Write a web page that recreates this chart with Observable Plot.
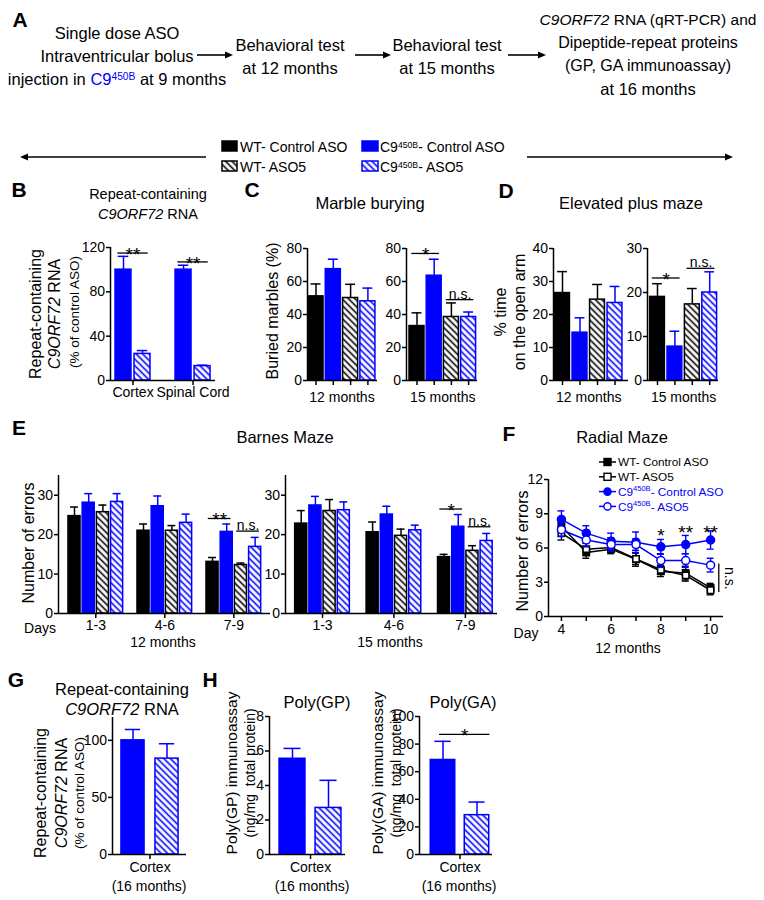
<!DOCTYPE html>
<html><head><meta charset="utf-8">
<script src="https://cdn.jsdelivr.net/npm/d3@7"></script>
<script src="https://cdn.jsdelivr.net/npm/@observablehq/plot@0.6"></script>
<style>
body{margin:0;background:#fff;}
#root{position:relative;width:764px;height:900px;overflow:hidden;font-family:"Liberation Sans",Arial,Helvetica,sans-serif;color:#000;background:#fff;}
.t{position:absolute;white-space:nowrap;line-height:1;}
.t sup{font-size:0.62em;vertical-align:0.5em;line-height:0;}
</style></head>
<body>
<svg width="0" height="0" style="position:absolute">
<defs>
<pattern id="hK" patternUnits="userSpaceOnUse" width="4.6" height="4.6" patternTransform="rotate(45)">
<rect width="4.6" height="4.6" fill="#fff"/><line x1="0" y1="2.3" x2="4.6" y2="2.3" stroke="#000" stroke-width="1.6"/>
</pattern>
<pattern id="hB" patternUnits="userSpaceOnUse" width="4.6" height="4.6" patternTransform="rotate(45)">
<rect width="4.6" height="4.6" fill="#fff"/><line x1="0" y1="2.3" x2="4.6" y2="2.3" stroke="#0000ff" stroke-width="1.6"/>
</pattern>
</defs>
</svg>
<div id="root"></div>
<script>
// ================= DATA =================
const treatments = ["WT- Control ASO", "C9450B- Control ASO", "WT- ASO5", "C9450B- ASO5"];
// B: repeat-containing C9ORF72 RNA (% of control ASO)
const rnaTissues = ["Cortex", "Spinal Cord"];
const rnaCtrl = [100, 100], rnaCtrlSem = [12, 4];
const rnaAso5 = [24, 13], rnaAso5Sem = [3, 0.8];
// C: marble burying (%)
const marble12 = [51, 67.5, 50, 48], marble12Sem = [7.5, 6, 8.3, 8];
const marble15 = [33, 63.5, 38.5, 38.5], marble15Sem = [8, 10, 8.5, 3];
// D: elevated plus maze (% time on open arm)
const epm12 = [26.5, 14.5, 24.5, 23.5], epm12Sem = [6.5, 4.5, 4.6, 5];
const epm15 = [19, 7.7, 17.3, 20], epm15Sem = [3, 3.5, 3.6, 4.7];
// E: Barnes maze errors
const barnesDays = ["1-3", "4-6", "7-9"];
const barnes12 = [[24.7, 28.1, 25.7, 28.3], [21.0, 27.2, 21.0, 23.0], [13.1, 20.7, 12.3, 16.9]];
const barnes12Sem = [[2.3, 2.3, 1.8, 2.1], [1.7, 2.6, 1.3, 2.2], [1.1, 2.0, 0.5, 2.4]];
const barnes15 = [[22.8, 27.4, 26.0, 26.2], [20.6, 25.1, 19.7, 21.1], [14.3, 22.0, 15.9, 18.4]];
const barnes15Sem = [[3.3, 2.3, 2.9, 2.1], [2.6, 2.1, 1.7, 1.3], [0.7, 3.1, 1.3, 1.9]];
// F: radial maze errors
const radialDays = [4, 5, 6, 7, 8, 9, 10];
const radialWtCtrl = [7.9, 5.6, 5.9, 5.0, 3.95, 3.8, 2.5], radialWtCtrlSem = [0.5, 0.5, 0.4, 0.6, 0.45, 0.6, 0.4];
const radialWtAso5 = [7.3, 5.9, 6.05, 5.05, 4.1, 3.6, 2.3], radialWtAso5Sem = [0.6, 0.5, 0.4, 0.5, 0.4, 0.5, 0.4];
const radialC9Ctrl = [8.5, 7.3, 6.6, 6.5, 6.1, 6.3, 6.7], radialC9CtrlSem = [0.75, 0.65, 0.7, 0.9, 0.65, 0.8, 0.8];
const radialC9Aso5 = [7.6, 6.7, 6.3, 6.3, 4.9, 4.9, 4.5], radialC9Aso5Sem = [0.6, 0.6, 0.6, 0.5, 0.6, 0.6, 0.6];
// G: RNA at 16 months
const rna16 = [100, 84], rna16Sem = [9.5, 13];
// H: poly(GP), poly(GA) ng/mg total protein
const polyGP = [5.55, 2.7], polyGPSem = [0.6, 1.6];
const polyGA = [68.5, 28.5], polyGASem = [13.5, 9.5];
// significance annotations
const sigB = [{a: 0, b: 1, y: 115, t: "**"}, {a: 2, b: 3, y: 107, t: "**"}];
const sigC15 = [{a: 0, b: 1, y: 77, t: "*"}, {a: 2, b: 3, y: 49, t: "n.s."}];
const sigD15 = [{a: 0, b: 1, y: 23.3, t: "*"}, {a: 2, b: 3, y: 25.5, t: "n.s."}];
const sigE12 = [{g: 2, a: 0, b: 1, y: 24.1, t: "**"}, {g: 2, a: 2, b: 3, y: 20.9, t: "n.s."}];
const sigE15 = [{g: 2, a: 0, b: 1, y: 26.5, t: "*"}, {g: 2, a: 2, b: 3, y: 22.0, t: "n.s."}];
const sigF = [{day: 8, y: 7.2, t: "*"}, {day: 9, y: 7.5, t: "**"}, {day: 10, y: 7.5, t: "**"}];
const sigGA = [{a: 0, b: 1, y: 87, t: "*"}];

// ================= HELPERS =================
const root = document.getElementById("root");
const BLUE = "#0000ff";
const FONT = '"Liberation Sans", Arial, Helvetica, sans-serif';
const FILL = ["#000", BLUE, "url(#hK)", "url(#hB)"];
const STROKE = ["#000", BLUE, "#000", BLUE];
const TICK_FS = 14;

function T(x, y, html, o = {}) {
  const d = document.createElement("div");
  d.className = "t";
  const ax = o.anchor === "start" ? "0%" : o.anchor === "end" ? "-100%" : "-50%";
  d.style.left = x + "px"; d.style.top = y + "px";
  d.style.fontSize = (o.size || 16) + "px";
  if (o.bold) d.style.fontWeight = "bold";
  if (o.color) d.style.color = o.color;
  d.style.transform = `translate(${ax},-50%)` + (o.rotate ? ` rotate(${o.rotate}deg)` : "");
  d.innerHTML = html;
  root.appendChild(d);
}
function place(el, left, top) {
  el.style.position = "absolute"; el.style.left = left + "px"; el.style.top = top + "px";
  root.appendChild(el);
}
function sigMarks(sigs) {
  const stars = sigs.filter(d => d.t !== "n.s."), ns = sigs.filter(d => d.t === "n.s.");
  return [
    Plot.ruleY(sigs, {y: "y", x1: d => d.x1, x2: d => d.x2, strokeWidth: 1.3}),
    Plot.text(stars, {x: d => (d.x1 + d.x2) / 2, y: "y", text: "t", fontSize: 19, lineAnchor: "bottom", dy: 8}),
    Plot.text(ns, {x: d => (d.x1 + d.x2) / 2, y: "y", text: "t", fontSize: 14, lineAnchor: "bottom", dy: -1})
  ];
}
function barPanel(o) {
  const mL = 40, mR = 8, mT = 34, mB = 46;
  const plotW = o.axisEnd - o.axisX, plotH = o.bottom - o.top;
  const width = mL + plotW + mR, height = mT + plotH + mB;
  const xd = [(o.axisX - o.firstCenter) / o.unit, (o.axisEnd - o.firstCenter) / o.unit];
  const hw = o.barW / 2, cw = o.barW * 0.33;
  const marks = [];
  for (let k = 0; k < 4; k++) {
    const b = o.bars.filter(d => d.k === k);
    if (!b.length) continue;
    marks.push(Plot.ruleX(b, {x: "pos", y1: "v", y2: d => d.v + d.e, stroke: STROKE[k], strokeWidth: 1.5}));
    marks.push(Plot.ruleY(b, {y: d => d.v + d.e, x1: d => d.pos - cw, x2: d => d.pos + cw, stroke: STROKE[k], strokeWidth: 1.5}));
    marks.push(Plot.rect(b, {x1: d => d.pos - hw, x2: d => d.pos + hw, y1: 0, y2: "v", fill: FILL[k], stroke: STROKE[k], strokeWidth: 1.5}));
  }
  marks.push(Plot.ruleX([xd[0]], {y1: 0, y2: o.yMax, strokeWidth: 1.5}));
  marks.push(Plot.ruleY([0], {x1: xd[0], x2: xd[1], strokeWidth: 1.5}));
  marks.push(Plot.axisY({ticks: o.yTicks, tickSize: 4, tickPadding: 1.5, fontSize: TICK_FS, strokeWidth: 1.5, label: null}));
  marks.push(Plot.axisX({ticks: o.xTicks, tickFormat: () => "", tickSize: 5, strokeWidth: 1.5, label: null}));
  if (o.xLabels) marks.push(Plot.text(o.xLabels, {x: "x", y: 0, text: "t", fontSize: 14, lineAnchor: "top", dy: o.labelDy || 7}));
  if (o.sigs) marks.push(...sigMarks(o.sigs));
  const p = Plot.plot({
    width, height, marginLeft: mL, marginRight: mR, marginTop: mT, marginBottom: mB,
    style: {background: "transparent", overflow: "visible", fontFamily: FONT, color: "#000"},
    x: {type: "linear", domain: xd, axis: null},
    y: {type: "linear", domain: [0, o.yMax], axis: null},
    marks
  });
  place(p, o.axisX - mL, o.top - mT);
}
const simpleBars = (vals, sems, kinds) => vals.map((v, i) => ({pos: i, v, e: sems[i], k: kinds[i]}));
const groupBars = (vals, sems, gp) => vals.flatMap((grp, g) => grp.map((v, i) => ({pos: g * gp + i, v, e: sems[g][i], k: i})));

// ================= PANEL A =================
T(20, 19, "A", {size: 21, bold: true});
T(117, 33, "Single dose ASO", {size: 16.5});
T(117, 56, "Intraventricular bolus", {size: 16.5});
T(117, 79, `injection in <span style="color:${BLUE}">C9<sup>450B</sup></span> at 9 months`, {size: 16.5});
T(290, 45, "Behavioral test", {size: 16.5});
T(290, 68, "at 12 months", {size: 16.5});
T(447, 45, "Behavioral test", {size: 16.5});
T(447, 68, "at 15 months", {size: 16.5});
T(648, 20, "<i>C9ORF72</i> RNA (qRT-PCR) and", {size: 15.5});
T(648, 43, "Dipeptide-repeat proteins", {size: 16});
T(648, 66, "(GP, GA immunoassay)", {size: 16});
T(648, 89, "at 16 months", {size: 16.5});
{
  const svg = d3.create("svg").attr("width", 764).attr("height", 200)
    .style("position", "absolute").style("left", "0px").style("top", "0px").style("overflow", "visible");
  const arrow = (x1, x2, y) => {
    const s = Math.sign(x2 - x1);
    svg.append("line").attr("x1", x1).attr("x2", x2 - s * 6).attr("y1", y).attr("y2", y).attr("stroke", "#000").attr("stroke-width", 1.6);
    svg.append("path").attr("d", `M${x2},${y} L${x2 - s * 8},${y - 3.5} L${x2 - s * 8},${y + 3.5} Z`).attr("fill", "#000");
  };
  arrow(197, 233, 55); arrow(355, 391, 55); arrow(508, 546, 55);
  arrow(206, 20, 157); arrow(527, 733, 157);
  root.appendChild(svg.node());
}
// main legend
function swatch(x, y, w, h, k) {
  const s = d3.create("svg").attr("width", w + 2).attr("height", h + 2);
  s.append("rect").attr("x", 1).attr("y", 1).attr("width", w).attr("height", h).attr("fill", FILL[k]).attr("stroke", STROKE[k]).attr("stroke-width", 1.5);
  place(s.node(), x - 1, y - 1);
}
swatch(222, 141, 15, 10, 0); T(240, 147, treatments[0], {size: 14, anchor: "start"});
swatch(222, 161, 15, 10, 2); T(240, 167, treatments[2], {size: 14, anchor: "start"});
swatch(362, 141, 16, 10, 1); T(380, 147, "C9<sup>450B</sup>- Control ASO", {size: 14, anchor: "start"});
swatch(362, 161, 16, 10, 3); T(380, 167, "C9<sup>450B</sup>- ASO5", {size: 14, anchor: "start"});

// ================= PANEL B =================
T(19, 189, "B", {size: 21, bold: true});
T(148, 194, "Repeat-containing", {size: 14.5});
T(148, 214, "<i>C9ORF72</i> RNA", {size: 14.5});
T(36, 314, "Repeat-containing", {size: 16, rotate: -90});
T(55, 314, "<i>C9ORF72</i> RNA", {size: 16, rotate: -90});
T(75, 312, "(% of control ASO)", {size: 13.5, rotate: -90});
{
  const gp = 3.16;
  const bars = rnaTissues.flatMap((t, g) => [
    {pos: g * gp, v: rnaCtrl[g], e: rnaCtrlSem[g], k: 1},
    {pos: g * gp + 1, v: rnaAso5[g], e: rnaAso5Sem[g], k: 3}]);
  barPanel({axisX: 110, axisEnd: 215, top: 247, bottom: 380, yMax: 120, yTicks: [0, 40, 80, 120],
    firstCenter: 123, unit: 19, barW: 0.84, bars,
    xTicks: rnaTissues.map((t, g) => g * gp + 0.5),
    xLabels: rnaTissues.map((t, g) => ({x: g * gp + 0.5, t})),
    sigs: sigB.map(s => ({...s, x1: bars[s.a].pos - 0.3, x2: bars[s.b].pos + 0.3}))});
}

// ================= PANEL C =================
T(252, 189, "C", {size: 21, bold: true});
T(370, 203, "Marble burying", {size: 16.5});
T(273, 311, "Buried marbles (%)", {size: 16, rotate: -90});
barPanel({axisX: 307, axisEnd: 377, top: 248, bottom: 380, yMax: 80, yTicks: [0, 20, 40, 60, 80],
  firstCenter: 315.5, unit: 17.3, barW: 0.87, bars: simpleBars(marble12, marble12Sem, [0, 1, 2, 3]),
  xTicks: [0, 1, 2, 3], xLabels: [{x: 1.5, t: "12 months"}], labelDy: 12});
barPanel({axisX: 406, axisEnd: 477, top: 248, bottom: 380, yMax: 80, yTicks: [0, 20, 40, 60, 80],
  firstCenter: 416.5, unit: 17.2, barW: 0.87, bars: simpleBars(marble15, marble15Sem, [0, 1, 2, 3]),
  xTicks: [0, 1, 2, 3], xLabels: [{x: 1.5, t: "15 months"}], labelDy: 12,
  sigs: sigC15.map(s => ({...s, x1: s.a - 0.3, x2: s.b + 0.3}))});

// ================= PANEL D =================
T(506, 190, "D", {size: 21, bold: true});
T(631, 203, "Elevated plus maze", {size: 16.5});
T(501, 312, "% time", {size: 16, rotate: -90});
T(520, 312, "on the open arm", {size: 16, rotate: -90});
barPanel({axisX: 553, axisEnd: 628, top: 248, bottom: 380, yMax: 40, yTicks: [0, 10, 20, 30, 40],
  firstCenter: 562, unit: 17.5, barW: 0.85, bars: simpleBars(epm12, epm12Sem, [0, 1, 2, 3]),
  xTicks: [0, 1, 2, 3], xLabels: [{x: 1.5, t: "12 months"}], labelDy: 12});
barPanel({axisX: 647, axisEnd: 718, top: 248, bottom: 380, yMax: 30, yTicks: [0, 10, 20, 30],
  firstCenter: 657, unit: 17.4, barW: 0.85, bars: simpleBars(epm15, epm15Sem, [0, 1, 2, 3]),
  xTicks: [0, 1, 2, 3], xLabels: [{x: 1.5, t: "15 months"}], labelDy: 12,
  sigs: sigD15.map(s => ({...s, x1: s.a - 0.3, x2: s.b + 0.3}))});

// ================= PANEL E =================
T(19, 427, "E", {size: 21, bold: true});
T(285, 437, "Barnes Maze", {size: 16.5});
T(29, 543, "Number of errors", {size: 16, rotate: -90});
T(40, 628, "Days", {size: 14});
{
  const gpL = 4.86, gpR = 5.03;
  barPanel({axisX: 58, axisEnd: 270, top: 475, bottom: 613, yMax: 35, yTicks: [0, 10, 20, 30],
    firstCenter: 74, unit: 14.2, barW: 0.85, bars: groupBars(barnes12, barnes12Sem, gpL),
    xTicks: barnesDays.map((d, g) => g * gpL + 1.5),
    xLabels: barnesDays.map((t, g) => ({x: g * gpL + 1.5, t})), labelDy: 7,
    sigs: sigE12.map(s => ({...s, x1: s.g * gpL + s.a - 0.3, x2: s.g * gpL + s.b + 0.3}))});
  barPanel({axisX: 285, axisEnd: 497, top: 475, bottom: 613, yMax: 35, yTicks: [0, 10, 20, 30],
    firstCenter: 300.7, unit: 14.2, barW: 0.85, bars: groupBars(barnes15, barnes15Sem, gpR),
    xTicks: barnesDays.map((d, g) => g * gpR + 1.5),
    xLabels: barnesDays.map((t, g) => ({x: g * gpR + 1.5, t})), labelDy: 7,
    sigs: sigE15.map(s => ({...s, x1: s.g * gpR + s.a - 0.3, x2: s.g * gpR + s.b + 0.3}))});
}
T(163, 642, "12 months", {size: 14});
T(390, 642, "15 months", {size: 14});

// ================= PANEL F =================
T(509, 433, "F", {size: 21, bold: true});
T(622, 437, "Radial Maze", {size: 16.5});
T(523, 551, "Number of errors", {size: 16, rotate: -90});
T(526, 633, "Day", {size: 14});
T(628, 648, "12 months", {size: 14});
{
  const series = [
    {m: radialWtCtrl, e: radialWtCtrlSem, sym: "square", fill: "#000", stroke: "#000"},
    {m: radialWtAso5, e: radialWtAso5Sem, sym: "square", fill: "#fff", stroke: "#000"},
    {m: radialC9Ctrl, e: radialC9CtrlSem, sym: "circle", fill: BLUE, stroke: BLUE},
    {m: radialC9Aso5, e: radialC9Aso5Sem, sym: "circle", fill: "#fff", stroke: BLUE}
  ];
  const mL = 40, mR = 30, mT = 20, mB = 40;
  const axisX = 548, axisEnd = 723, top = 479, bottom = 616;
  const xd = [3.48, 10.52];
  const marks = [];
  series.forEach(s => {
    const pts = radialDays.map((d, i) => ({d, v: s.m[i], e: s.e[i]}));
    marks.push(Plot.line(pts, {x: "d", y: "v", stroke: s.stroke, strokeWidth: 1.5}));
    marks.push(Plot.ruleX(pts, {x: "d", y1: p => p.v - p.e, y2: p => p.v + p.e, stroke: s.stroke, strokeWidth: 1.4}));
    marks.push(Plot.ruleY(pts, {y: p => p.v + p.e, x1: p => p.d - 0.14, x2: p => p.d + 0.14, stroke: s.stroke, strokeWidth: 1.4}));
    marks.push(Plot.ruleY(pts, {y: p => p.v - p.e, x1: p => p.d - 0.14, x2: p => p.d + 0.14, stroke: s.stroke, strokeWidth: 1.4}));
    marks.push(Plot.dot(pts, {x: "d", y: "v", symbol: s.sym, r: s.sym === "square" ? 3.6 : 4, fill: s.fill, stroke: s.stroke, strokeWidth: 1.5}));
  });
  marks.push(Plot.ruleX([xd[0]], {y1: 0, y2: 12, strokeWidth: 1.5}));
  marks.push(Plot.ruleY([0], {x1: xd[0], x2: xd[1], strokeWidth: 1.5}));
  marks.push(Plot.axisY({ticks: [0, 3, 6, 9, 12], tickSize: 4, tickPadding: 1.5, fontSize: TICK_FS, strokeWidth: 1.5, label: null}));
  marks.push(Plot.axisX({ticks: radialDays, tickFormat: d => d % 2 === 0 ? String(d) : "", tickSize: 5, tickPadding: 3, fontSize: 14, strokeWidth: 1.5, label: null}));
  marks.push(Plot.text(sigF, {x: "day", y: "y", text: "t", fontSize: 19, lineAnchor: "bottom", dy: 8}));
  marks.push(Plot.ruleX([10.33], {y1: 2.1, y2: 4.6, strokeWidth: 1.3}));
  marks.push(Plot.text(["n.s."], {x: 10.75, y: 3.35, text: d => d, rotate: 90, fontSize: 14}));
  const p = Plot.plot({
    width: mL + axisEnd - axisX + mR, height: mT + bottom - top + mB,
    marginLeft: mL, marginRight: mR, marginTop: mT, marginBottom: mB,
    style: {background: "transparent", overflow: "visible", fontFamily: FONT, color: "#000"},
    x: {type: "linear", domain: xd, axis: null},
    y: {type: "linear", domain: [0, 12], axis: null},
    marks
  });
  place(p, axisX - mL, top - mT);
  // legend
  const lg = d3.create("svg").attr("width", 170).attr("height", 64).style("overflow", "visible");
  const rows = [
    {t: treatments[0], s: series[0]}, {t: treatments[2], s: series[1]},
    {t: "C9<tspan font-size='7.5' dy='-5'>450B</tspan><tspan dy='5'>- Control ASO</tspan>", s: series[2]},
    {t: "C9<tspan font-size='7.5' dy='-5'>450B</tspan><tspan dy='5'>- ASO5</tspan>", s: series[3]}];
  rows.forEach((r, i) => {
    const y = 8 + i * 14.8;
    lg.append("line").attr("x1", 2).attr("x2", 19).attr("y1", y).attr("y2", y).attr("stroke", r.s.stroke).attr("stroke-width", 1.5);
    if (r.s.sym === "square") lg.append("rect").attr("x", 7).attr("y", y - 3.5).attr("width", 7).attr("height", 7).attr("fill", r.s.fill).attr("stroke", r.s.stroke).attr("stroke-width", 1.4);
    else lg.append("circle").attr("cx", 10.5).attr("cy", y).attr("r", 3.6).attr("fill", r.s.fill).attr("stroke", r.s.stroke).attr("stroke-width", 1.4);
    lg.append("text").attr("x", 21).attr("y", y + 4.2).attr("font-size", 11.8).attr("font-family", FONT).attr("fill", r.s.stroke === BLUE ? BLUE : "#000").html(r.t);
  });
  place(lg.node(), 597, 454);
}

// ================= PANEL G =================
T(16, 679, "G", {size: 21, bold: true});
T(122, 689, "Repeat-containing", {size: 16.5});
T(122, 709, "<i>C9ORF72</i> RNA", {size: 16.5});
T(41, 793, "Repeat-containing", {size: 16, rotate: -90});
T(62, 793, "<i>C9ORF72</i> RNA", {size: 16, rotate: -90});
T(80, 793, "(% of control ASO)", {size: 13.5, rotate: -90});
barPanel({axisX: 112, axisEnd: 186, top: 717, bottom: 854, yMax: 120, yTicks: [0, 50, 100],
  firstCenter: 132.5, unit: 34, barW: 0.68, bars: simpleBars(rna16, rna16Sem, [1, 3]),
  xTicks: [0.5], xLabels: [{x: 0.5, t: "Cortex"}], labelDy: 8});
T(149, 886, "(16 months)", {size: 14});

// ================= PANEL H =================
T(210, 679, "H", {size: 21, bold: true});
T(317, 702, "Poly(GP)", {size: 16.5});
T(463, 702, "Poly(GA)", {size: 16.5});
T(232, 773, "Poly(GP) immunoassay", {size: 15.5, rotate: -90});
T(250, 773, "(ng/mg&nbsp; total protein)", {size: 14, rotate: -90});
T(378, 773, "Poly(GA) immunoassay", {size: 15.5, rotate: -90});
T(396, 773, "(ng/mg&nbsp; total protein)", {size: 14, rotate: -90});
barPanel({axisX: 269, axisEnd: 345, top: 716, bottom: 854, yMax: 8, yTicks: [0, 2, 4, 6, 8],
  firstCenter: 292, unit: 36, barW: 0.72, bars: simpleBars(polyGP, polyGPSem, [1, 3]),
  xTicks: [0.5], xLabels: [{x: 0.5, t: "Cortex"}], labelDy: 8});
T(312, 886, "(16 months)", {size: 14});
barPanel({axisX: 419, axisEnd: 492, top: 716, bottom: 854, yMax: 100, yTicks: [0, 20, 40, 60, 80, 100],
  firstCenter: 442.5, unit: 34, barW: 0.72, bars: simpleBars(polyGA, polyGASem, [1, 3]),
  xTicks: [0.5], xLabels: [{x: 0.5, t: "Cortex"}], labelDy: 8,
  sigs: sigGA.map(s => ({...s, x1: s.a - 0.1, x2: s.b + 0.38}))});
T(459, 886, "(16 months)", {size: 14});
</script>
</body></html>
